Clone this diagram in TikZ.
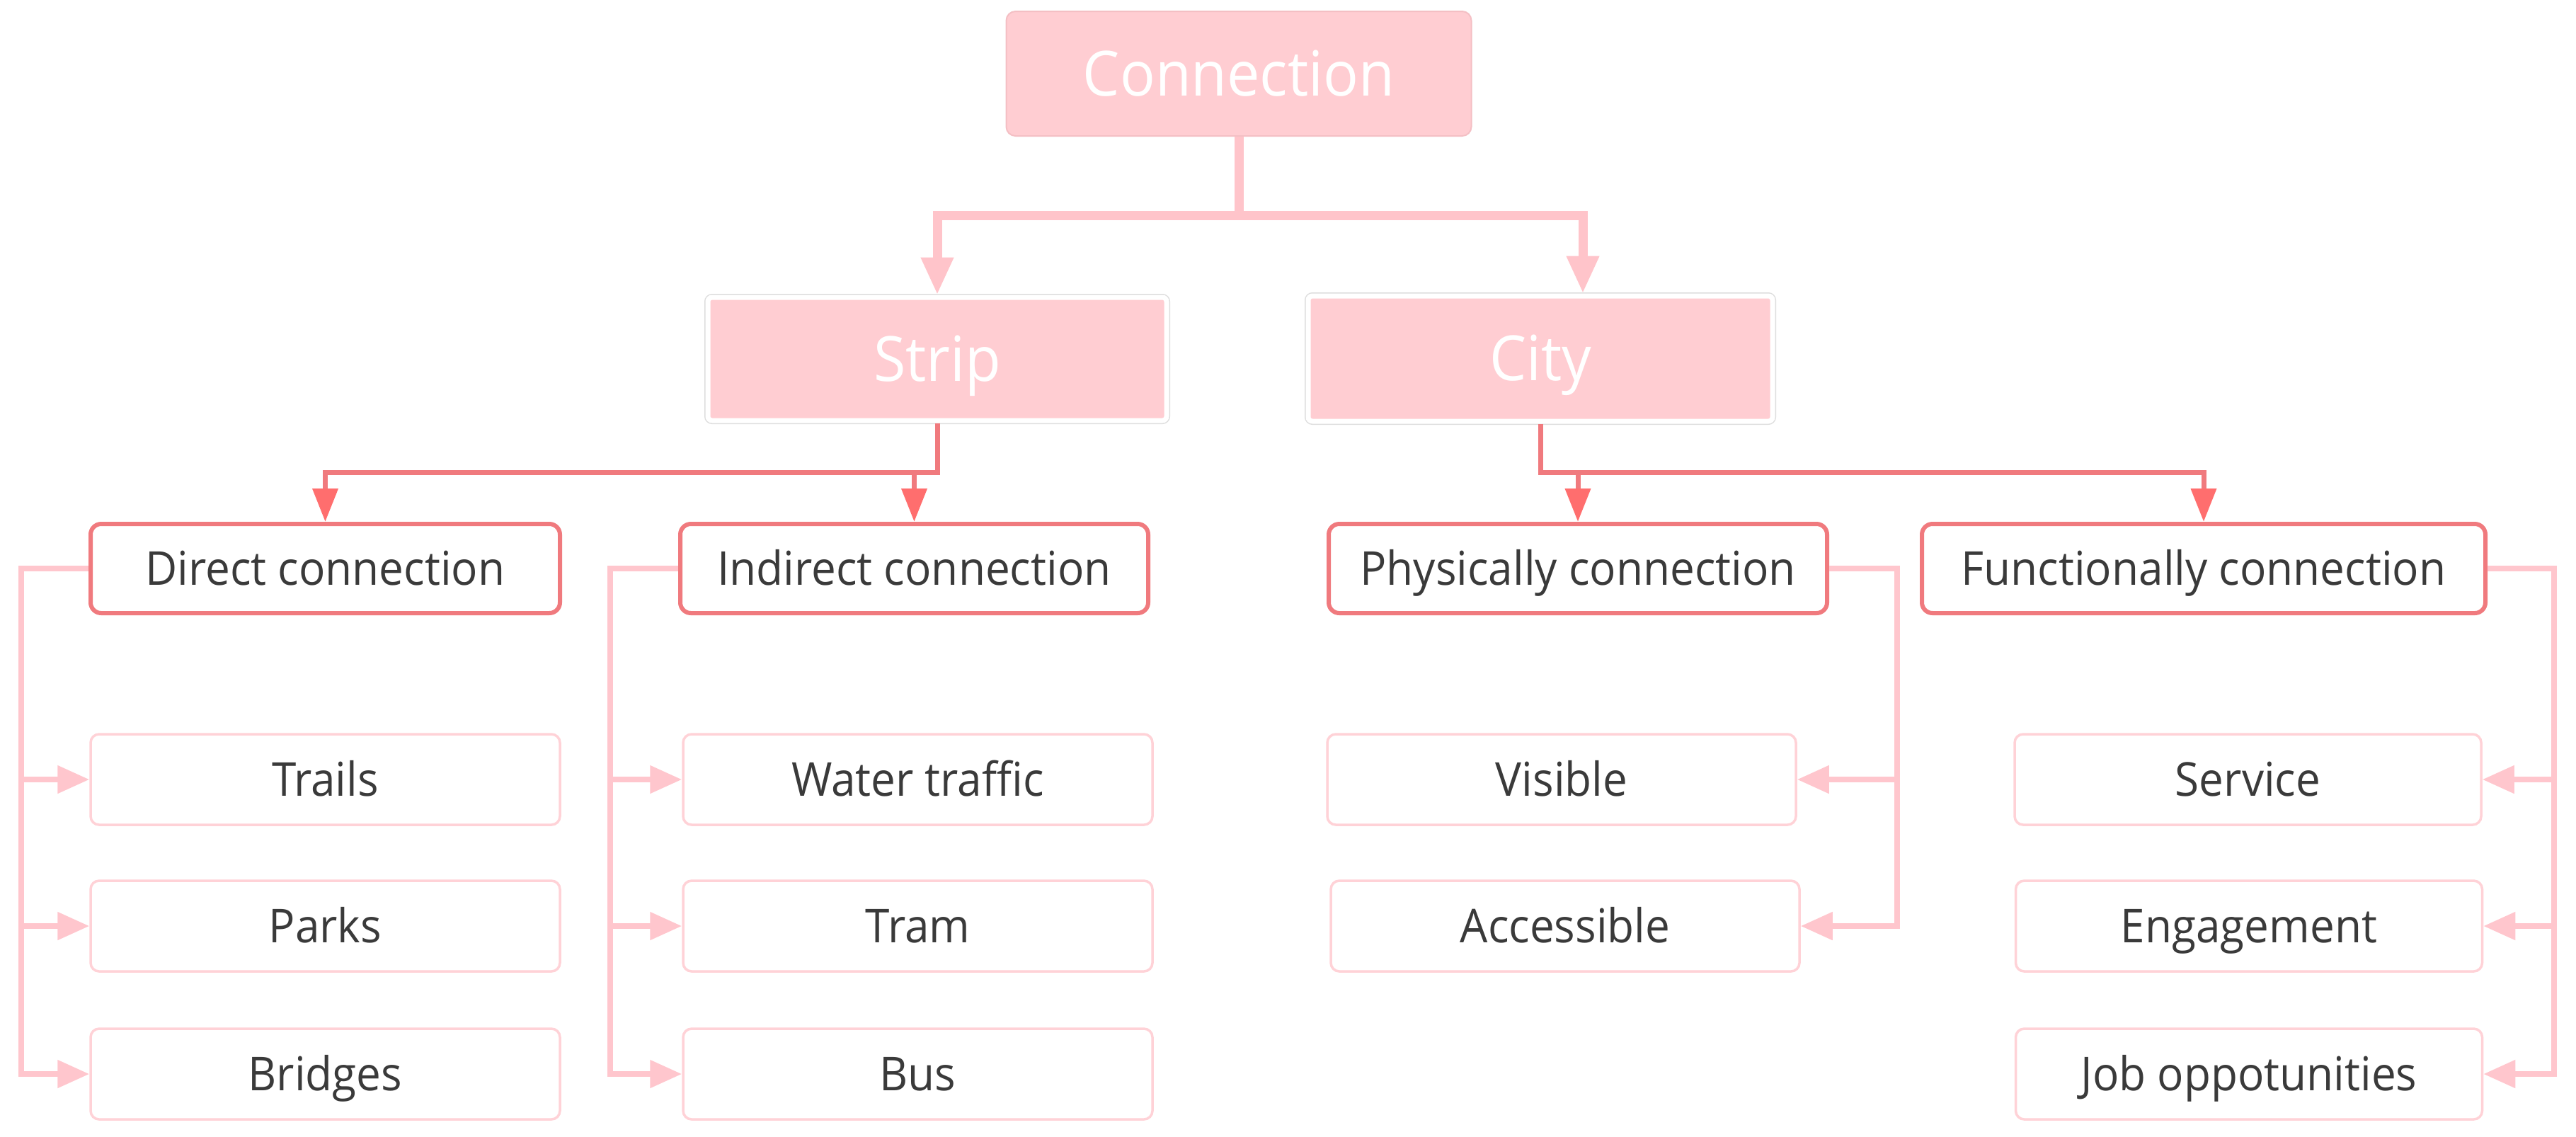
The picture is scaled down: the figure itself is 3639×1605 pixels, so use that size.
\documentclass[tikz,border=0pt]{standalone}
\usepackage{fontspec}
\setmainfont{Open Sans}[FakeStretch=0.94]
\usetikzlibrary{arrows.meta}
\definecolor{pinkfill}{HTML}{FFCDD2}
\definecolor{pinkedge}{HTML}{F4BFC4}
\definecolor{lone}{HTML}{FFC4CA}
\definecolor{ltwo}{HTML}{F07A7E}
\definecolor{ltwotip}{HTML}{FF6E6E}
\definecolor{lthree}{HTML}{FFC6CD}
\definecolor{boxthree}{HTML}{FFD2D7}
\definecolor{txtdark}{HTML}{3A3A3A}
\newcommand{\pxu}{0.2pt}
\tikzset{
  bigtext/.style={font=\fontsize{17.6}{20}\selectfont, text height=12.57pt, text depth=0pt},
  smalltext/.style={font=\fontsize{13.2}{15}\selectfont, text height=9.42pt, text depth=0pt},
  rootbox/.style={fill=pinkfill, draw=pinkedge, line width=0.4pt, rounded corners=2.6pt,
    text=white, inner sep=0pt, bigtext},
  topbox/.style={fill=pinkfill, draw=white, line width=1.4pt, rounded corners=1.2pt,
    preaction={draw=black!13, line width=2.0pt},
    text=white, inner sep=0pt, bigtext},
  midbox/.style={fill=white, draw=ltwo, line width=1.2pt, rounded corners=3pt,
    text=txtdark, inner sep=0pt, minimum height=126*\pxu, smalltext},
  leafbox/.style={fill=white, draw=boxthree, line width=0.7pt, rounded corners=2.4pt,
    text=txtdark, inner sep=0pt, minimum height=128*\pxu, smalltext},
  lonearrow/.style={draw=lone, line width=2.6pt, -{Triangle[length=10.6pt, width=8.6pt]}},
  loneline/.style={draw=lone, line width=2.6pt},
  ltwoarrow/.style={draw=ltwo, line width=1.4pt, -{Triangle[length=9.4pt, width=7pt, color=ltwotip]}},
  lthreearrow/.style={draw=lthree, line width=1.6pt, -{Triangle[length=9pt, width=7.6pt]}}
}
\begin{document}
\begin{tikzpicture}[x=0.2pt, y=-0.2pt]
\useasboundingbox (0,0) rectangle (3639,1605);
\fill[white] (0,0) rectangle (3639,1605);

% level 0 and 1
\node[rootbox, minimum width=657*\pxu, minimum height=176*\pxu] (conn) at (1750,104) {Connection};
\node[topbox, minimum width=648*\pxu, minimum height=174*\pxu] (strip) at (1324,507) {Strip};
\node[topbox, minimum width=656*\pxu, minimum height=177*\pxu] (city) at (2176,506.5) {City};

% level 2
\node[midbox, minimum width=663*\pxu] (direct) at (459.5,803) {Direct connection};
\node[midbox, minimum width=661*\pxu] (indirect) at (1291.5,803) {Indirect connection};
\node[midbox, minimum width=704*\pxu] (phys) at (2229,803) {Physically connection};
\node[midbox, minimum width=796*\pxu] (func) at (3113,803) {Functionally connection};

% level 3
\node[leafbox, minimum width=663*\pxu] (trails) at (459.5,1101) {Trails};
\node[leafbox, minimum width=663*\pxu] (parks) at (459.5,1308) {Parks};
\node[leafbox, minimum width=663*\pxu] (bridges) at (459.5,1517) {Bridges};
\node[leafbox, minimum width=663*\pxu] (water) at (1296.5,1101) {Water traffic};
\node[leafbox, minimum width=663*\pxu] (tram) at (1296.5,1308) {Tram};
\node[leafbox, minimum width=663*\pxu] (bus) at (1296.5,1517) {Bus};
\node[leafbox, minimum width=662*\pxu] (visible) at (2206,1101) {Visible};
\node[leafbox, minimum width=662*\pxu] (access) at (2211,1308) {Accessible};
\node[leafbox, minimum width=659*\pxu] (service) at (3175.5,1101) {Service};
\node[leafbox, minimum width=659*\pxu] (engage) at (3177,1308) {Engagement};
\node[leafbox, minimum width=659*\pxu] (job) at (3177,1517) {Job oppotunities};

% level 1 connectors
\coordinate (j1) at (1750,304);
\draw[loneline] (conn.south) -- (j1);
\draw[lonearrow] (j1) -| (strip.north);
\draw[lonearrow] (j1) -| ([xshift=12pt]city.north);

% level 2 connectors
\coordinate (sj) at (1324,667);
\coordinate (cj) at (2176,667);
\draw[ltwoarrow] (strip.south) -- (sj) -| (direct.north);
\draw[ltwoarrow] (sj) -| (indirect.north);
\draw[ltwoarrow] (city.south) -- (cj) -| (func.north);
\draw[ltwoarrow] (cj) -| (phys.north);

% brackets
\coordinate (dl) at (30,803);
\draw[lthreearrow] (direct.west) -- (dl) |- (bridges.west);
\draw[lthreearrow] (dl |- trails.west) -- (trails.west);
\draw[lthreearrow] (dl |- parks.west) -- (parks.west);

\coordinate (il) at (862,803);
\draw[lthreearrow] (indirect.west) -- (il) |- (bus.west);
\draw[lthreearrow] (il |- water.west) -- (water.west);
\draw[lthreearrow] (il |- tram.west) -- (tram.west);

\coordinate (pr) at (2680,803);
\draw[lthreearrow] (phys.east) -- (pr) |- (access.east);
\draw[lthreearrow] (pr |- visible.east) -- (visible.east);

\coordinate (fr) at (3608,803);
\draw[lthreearrow] (func.east) -- (fr) |- (job.east);
\draw[lthreearrow] (fr |- service.east) -- (service.east);
\draw[lthreearrow] (fr |- engage.east) -- (engage.east);
\end{tikzpicture}
\end{document}
